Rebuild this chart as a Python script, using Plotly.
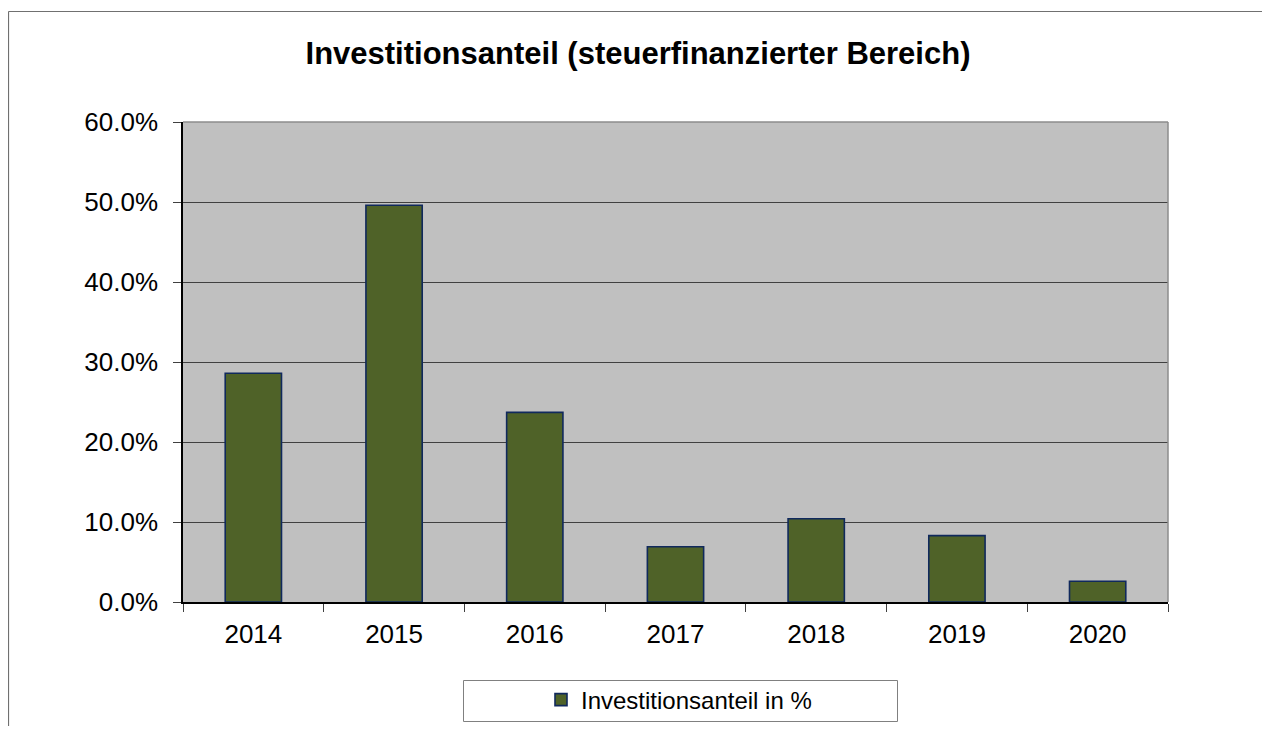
import plotly.graph_objects as go

years = ["2014", "2015", "2016", "2017", "2018", "2019", "2020"]
values = [0.286, 0.496, 0.237, 0.069, 0.104, 0.083, 0.026]
series_name = "Investitionsanteil in %"
title_text = "Investitionsanteil (steuerfinanzierter Bereich)"

# page body adds an 8px margin, so figure coords = screen coords - 8
W, H = 1254, 718
L, R, T, B = 175, 1160, 114, 594  # plot area pixels (figure coords)


def px(x):
    return (x - L) / (R - L)


def py(y):
    return (B - y) / (B - T)


fig = go.Figure()
fig.add_trace(go.Bar(
    x=years, y=values, name=series_name,
    marker=dict(color="#4F6228", line=dict(color="#10295C", width=1.6)),
    showlegend=True,
))

shapes = [
    # outer chart border (only top/left visible in frame)
    dict(type="line", xref="paper", yref="paper",
         x0=px(0.5), x1=px(W), y0=py(3.5), y1=py(3.5),
         line=dict(color="#707070", width=1.2), layer="below"),
    dict(type="line", xref="paper", yref="paper",
         x0=px(0.5), x1=px(0.5), y0=py(3.5), y1=py(H),
         line=dict(color="#707070", width=1.2), layer="below"),
    # plot area top / right edge
    dict(type="line", xref="paper", yref="paper", x0=0, x1=1, y0=1, y1=1,
         line=dict(color="#8C8C8C", width=1.5), layer="above"),
    dict(type="line", xref="paper", yref="paper", x0=1, x1=1, y0=0, y1=1,
         line=dict(color="#8C8C8C", width=1.5), layer="above"),
    # legend box
    dict(type="rect", xref="paper", yref="paper",
         x0=px(455.5), x1=px(889.5), y0=py(713.5), y1=py(672.5),
         line=dict(color="#808080", width=1), fillcolor="white", layer="below"),
]

fig.update_layout(
    width=W, height=H,
    margin=dict(l=L, r=W - R, t=T, b=H - B, autoexpand=False),
    paper_bgcolor="white",
    plot_bgcolor="#C0C0C0",
    font=dict(family="Liberation Sans, Arial", color="black", size=26),
    title=dict(text="<b>" + title_text + "</b>", xref="container", yref="container",
               x=630 / W, y=1 - 45.5 / H, xanchor="center", yanchor="middle",
               font=dict(size=31, family="Liberation Sans, Arial", color="black")),
    bargap=0.6,
    shapes=shapes,
    legend=dict(orientation="h", x=px(533), xanchor="left", y=py(692), yanchor="middle",
                bgcolor="rgba(0,0,0,0)", borderwidth=0,
                font=dict(size=24, family="Liberation Sans, Arial", color="black")),
    xaxis=dict(type="category", showgrid=False, showline=True, linecolor="black", linewidth=1.5,
               ticks="outside", tickson="boundaries", ticklen=8, tickcolor="#404040",
               tickfont=dict(size=26), ticklabelstandoff=8),
    yaxis=dict(range=[0, 0.6], dtick=0.1, tickformat=".1%", showgrid=True,
               gridcolor="#404040", gridwidth=1, zeroline=False,
               showline=True, linecolor="black", linewidth=1.5,
               ticks="outside", ticklen=8, tickcolor="#404040",
               tickfont=dict(size=26), ticklabelstandoff=10),
)

fig.write_html("out.html")
